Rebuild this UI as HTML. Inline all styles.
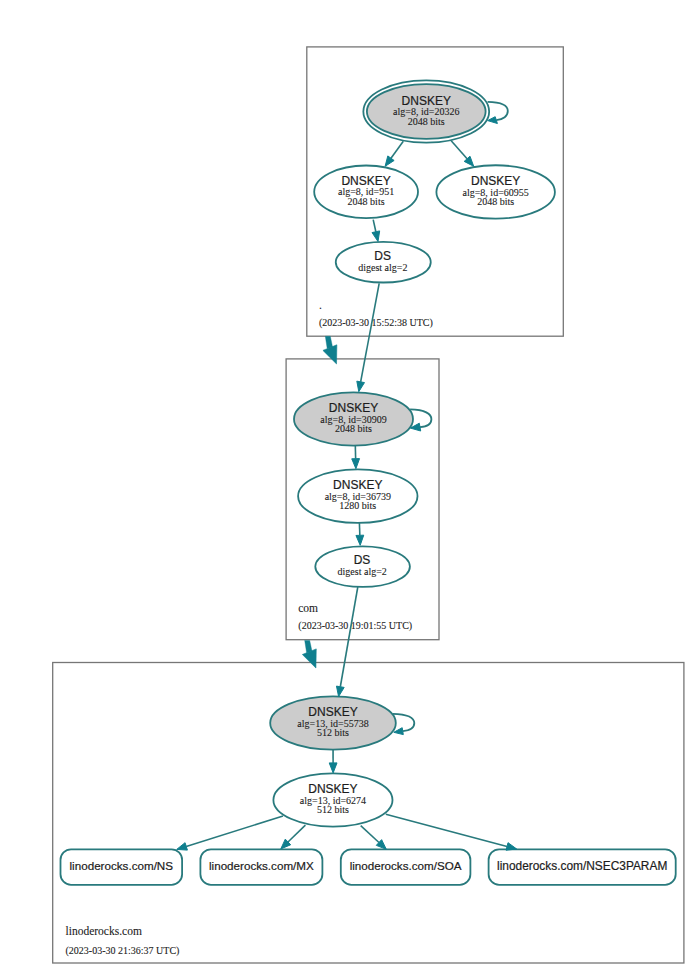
<!DOCTYPE html>
<html><head><meta charset="utf-8"><style>
html,body{margin:0;padding:0;background:#ffffff;}
svg{display:block;}
.sa{font-family:"Liberation Sans",sans-serif;}
.se{font-family:"Liberation Serif",serif;}
</style></head><body>
<svg width="694" height="972" viewBox="0 0 694 972">
<rect width="694" height="972" fill="#ffffff"/>
<rect x="306.8" y="46.9" width="256.50" height="289.30" fill="none" stroke="#767676" stroke-width="1.3"/>
<rect x="286.1" y="358.9" width="152.90" height="280.80" fill="none" stroke="#767676" stroke-width="1.3"/>
<rect x="52.7" y="662.5" width="631.20" height="300.50" fill="none" stroke="#767676" stroke-width="1.3"/>
<text class="se" x="318.90" y="308.50" font-size="11.5" text-anchor="start" fill="#1c1c1c" stroke="#1c1c1c" stroke-width="0.1">.</text>
<text class="se" x="318.90" y="325.90" font-size="10" text-anchor="start" fill="#1c1c1c" stroke="#1c1c1c" stroke-width="0.1">(2023-03-30 15:52:38 UTC)</text>
<text class="se" x="298.20" y="612.00" font-size="11.5" text-anchor="start" fill="#1c1c1c" stroke="#1c1c1c" stroke-width="0.1">com</text>
<text class="se" x="298.30" y="629.40" font-size="10" text-anchor="start" fill="#1c1c1c" stroke="#1c1c1c" stroke-width="0.1">(2023-03-30 19:01:55 UTC)</text>
<text class="se" x="65.50" y="935.20" font-size="11.5" text-anchor="start" fill="#1c1c1c" stroke="#1c1c1c" stroke-width="0.1">linoderocks.com</text>
<text class="se" x="65.50" y="953.60" font-size="10" text-anchor="start" fill="#1c1c1c" stroke="#1c1c1c" stroke-width="0.1">(2023-03-30 21:36:37 UTC)</text>
<ellipse cx="426.25" cy="111.5" rx="62.9" ry="31.1" fill="none" stroke="#297a7d" stroke-width="1.8"/>
<ellipse cx="426.25" cy="111.5" rx="59.35" ry="27.4" fill="#cccccc" stroke="#297a7d" stroke-width="1.8"/>
<text class="sa" x="426.25" y="104.50" font-size="12" text-anchor="middle" fill="#1c1c1c" stroke="#1c1c1c" stroke-width="0.2">DNSKEY</text>
<text class="se" x="426.25" y="115.10" font-size="10" text-anchor="middle" fill="#1c1c1c" stroke="#1c1c1c" stroke-width="0.1">alg=8, id=20326</text>
<text class="se" x="426.25" y="124.70" font-size="10" text-anchor="middle" fill="#1c1c1c" stroke="#1c1c1c" stroke-width="0.1">2048 bits</text>
<path d="M487.6,101.9 C500.60,102.20 507.80,104.90 507.80,110.90 C507.80,115.90 503.30,119.60 496.30,120.10" stroke="#297a7d" stroke-width="1.8" fill="none"/>
<polygon points="495.2,116.7 487.6,120.6 497.4,123.5" fill="#0f7f8e" stroke="#0f7f8e" stroke-width="1"/>
<ellipse cx="366.1" cy="191.8" rx="51.9" ry="26.3" fill="#ffffff" stroke="#297a7d" stroke-width="1.8"/>
<text class="sa" x="366.10" y="184.80" font-size="12" text-anchor="middle" fill="#1c1c1c" stroke="#1c1c1c" stroke-width="0.2">DNSKEY</text>
<text class="se" x="366.10" y="195.40" font-size="10" text-anchor="middle" fill="#1c1c1c" stroke="#1c1c1c" stroke-width="0.1">alg=8, id=951</text>
<text class="se" x="366.10" y="205.00" font-size="10" text-anchor="middle" fill="#1c1c1c" stroke="#1c1c1c" stroke-width="0.1">2048 bits</text>
<ellipse cx="495.65" cy="191.95" rx="59.25" ry="26.7" fill="#ffffff" stroke="#297a7d" stroke-width="1.8"/>
<text class="sa" x="495.65" y="184.95" font-size="12" text-anchor="middle" fill="#1c1c1c" stroke="#1c1c1c" stroke-width="0.2">DNSKEY</text>
<text class="se" x="495.65" y="195.55" font-size="10" text-anchor="middle" fill="#1c1c1c" stroke="#1c1c1c" stroke-width="0.1">alg=8, id=60955</text>
<text class="se" x="495.65" y="205.15" font-size="10" text-anchor="middle" fill="#1c1c1c" stroke="#1c1c1c" stroke-width="0.1">2048 bits</text>
<ellipse cx="383.25" cy="262.2" rx="47.5" ry="20.3" fill="#ffffff" stroke="#297a7d" stroke-width="1.8"/>
<text class="sa" x="382.65" y="259.80" font-size="12" text-anchor="middle" fill="#1c1c1c" stroke="#1c1c1c" stroke-width="0.2">DS</text>
<text class="se" x="382.85" y="270.60" font-size="10" text-anchor="middle" fill="#1c1c1c" stroke="#1c1c1c" stroke-width="0.1">digest alg=2</text>
<ellipse cx="353.5" cy="418.95" rx="59.5" ry="26.65" fill="#cccccc" stroke="#297a7d" stroke-width="1.8"/>
<text class="sa" x="353.50" y="411.95" font-size="12" text-anchor="middle" fill="#1c1c1c" stroke="#1c1c1c" stroke-width="0.2">DNSKEY</text>
<text class="se" x="353.50" y="422.55" font-size="10" text-anchor="middle" fill="#1c1c1c" stroke="#1c1c1c" stroke-width="0.1">alg=8, id=30909</text>
<text class="se" x="353.50" y="432.15" font-size="10" text-anchor="middle" fill="#1c1c1c" stroke="#1c1c1c" stroke-width="0.1">2048 bits</text>
<path d="M410.1,409.4 C423.10,409.70 431.40,413.20 431.40,419.20 C431.40,424.20 427.00,426.60 420.00,427.10" stroke="#297a7d" stroke-width="1.8" fill="none"/>
<polygon points="419.3,423.2 410.4,428.1 420.7,431" fill="#0f7f8e" stroke="#0f7f8e" stroke-width="1"/>
<ellipse cx="357.8" cy="496.15" rx="59.7" ry="26.75" fill="#ffffff" stroke="#297a7d" stroke-width="1.8"/>
<text class="sa" x="357.80" y="489.15" font-size="12" text-anchor="middle" fill="#1c1c1c" stroke="#1c1c1c" stroke-width="0.2">DNSKEY</text>
<text class="se" x="357.80" y="499.75" font-size="10" text-anchor="middle" fill="#1c1c1c" stroke="#1c1c1c" stroke-width="0.1">alg=8, id=36739</text>
<text class="se" x="357.80" y="509.35" font-size="10" text-anchor="middle" fill="#1c1c1c" stroke="#1c1c1c" stroke-width="0.1">1280 bits</text>
<ellipse cx="362.6" cy="566.6" rx="47.3" ry="20.3" fill="#ffffff" stroke="#297a7d" stroke-width="1.8"/>
<text class="sa" x="362.00" y="564.20" font-size="12" text-anchor="middle" fill="#1c1c1c" stroke="#1c1c1c" stroke-width="0.2">DS</text>
<text class="se" x="362.20" y="575.00" font-size="10" text-anchor="middle" fill="#1c1c1c" stroke="#1c1c1c" stroke-width="0.1">digest alg=2</text>
<ellipse cx="333.0" cy="723.0" rx="62.8" ry="26.6" fill="#cccccc" stroke="#297a7d" stroke-width="1.8"/>
<text class="sa" x="333.00" y="716.00" font-size="12" text-anchor="middle" fill="#1c1c1c" stroke="#1c1c1c" stroke-width="0.2">DNSKEY</text>
<text class="se" x="333.00" y="726.60" font-size="10" text-anchor="middle" fill="#1c1c1c" stroke="#1c1c1c" stroke-width="0.1">alg=13, id=55738</text>
<text class="se" x="333.00" y="736.20" font-size="10" text-anchor="middle" fill="#1c1c1c" stroke="#1c1c1c" stroke-width="0.1">512 bits</text>
<path d="M392.7,713.8 C405.70,714.10 414.30,717.10 414.30,723.10 C414.30,728.10 409.75,730.65 402.75,731.15" stroke="#297a7d" stroke-width="1.8" fill="none"/>
<polygon points="402.2,727.7 393.8,732.3 403.3,734.6" fill="#0f7f8e" stroke="#0f7f8e" stroke-width="1"/>
<ellipse cx="332.95" cy="799.95" rx="59.55" ry="26.65" fill="#ffffff" stroke="#297a7d" stroke-width="1.8"/>
<text class="sa" x="332.95" y="792.95" font-size="12" text-anchor="middle" fill="#1c1c1c" stroke="#1c1c1c" stroke-width="0.2">DNSKEY</text>
<text class="se" x="332.95" y="803.55" font-size="10" text-anchor="middle" fill="#1c1c1c" stroke="#1c1c1c" stroke-width="0.1">alg=13, id=6274</text>
<text class="se" x="332.95" y="813.15" font-size="10" text-anchor="middle" fill="#1c1c1c" stroke="#1c1c1c" stroke-width="0.1">512 bits</text>
<rect x="60.5" y="849.4" width="121.60" height="35.40" rx="10.5" ry="10.5" fill="#ffffff" stroke="#297a7d" stroke-width="1.8"/>
<text class="sa" x="121.30" y="869.80" font-size="11.65" text-anchor="middle" fill="#1c1c1c" stroke="#1c1c1c" stroke-width="0.2">linoderocks.com/NS</text>
<rect x="200.4" y="849.4" width="122.00" height="35.40" rx="10.5" ry="10.5" fill="#ffffff" stroke="#297a7d" stroke-width="1.8"/>
<text class="sa" x="261.40" y="869.80" font-size="11.65" text-anchor="middle" fill="#1c1c1c" stroke="#1c1c1c" stroke-width="0.2">linoderocks.com/MX</text>
<rect x="340.8" y="849.4" width="129.60" height="35.40" rx="10.5" ry="10.5" fill="#ffffff" stroke="#297a7d" stroke-width="1.8"/>
<text class="sa" x="405.60" y="869.80" font-size="11.65" text-anchor="middle" fill="#1c1c1c" stroke="#1c1c1c" stroke-width="0.2">linoderocks.com/SOA</text>
<rect x="488.6" y="849.4" width="187.10" height="35.40" rx="10.5" ry="10.5" fill="#ffffff" stroke="#297a7d" stroke-width="1.8"/>
<text class="sa" x="582.15" y="869.80" font-size="11.9" text-anchor="middle" fill="#1c1c1c" stroke="#1c1c1c" stroke-width="0.2">linoderocks.com/NSEC3PARAM</text>
<path d="M403.30,141.20 L390.97,158.20" stroke="#297a7d" stroke-width="1.6" fill="none"/>
<polygon points="387.81,155.91 385.10,166.30 394.13,160.49" fill="#0f7f8e" stroke="#0f7f8e" stroke-width="1"/>
<path d="M451.20,140.80 L467.08,158.80" stroke="#297a7d" stroke-width="1.6" fill="none"/>
<polygon points="464.16,161.38 473.70,166.30 470.01,156.22" fill="#0f7f8e" stroke="#0f7f8e" stroke-width="1"/>
<path d="M373.20,219.70 L375.85,231.73" stroke="#297a7d" stroke-width="1.6" fill="none"/>
<polygon points="372.04,232.57 378.00,241.50 379.66,230.90" fill="#0f7f8e" stroke="#0f7f8e" stroke-width="1"/>
<path d="M379.20,283.40 L360.65,381.87" stroke="#297a7d" stroke-width="1.6" fill="none"/>
<polygon points="356.82,381.15 358.80,391.70 364.48,382.59" fill="#0f7f8e" stroke="#0f7f8e" stroke-width="1"/>
<path d="M355.30,445.60 L355.64,458.70" stroke="#297a7d" stroke-width="1.6" fill="none"/>
<polygon points="351.74,458.80 355.90,468.70 359.54,458.60" fill="#0f7f8e" stroke="#0f7f8e" stroke-width="1"/>
<path d="M359.40,523.00 L359.84,535.31" stroke="#297a7d" stroke-width="1.6" fill="none"/>
<polygon points="355.94,535.45 360.20,545.30 363.74,535.17" fill="#0f7f8e" stroke="#0f7f8e" stroke-width="1"/>
<path d="M357.80,587.00 L340.33,686.75" stroke="#297a7d" stroke-width="1.6" fill="none"/>
<polygon points="336.48,686.08 338.60,696.60 344.17,687.42" fill="#0f7f8e" stroke="#0f7f8e" stroke-width="1"/>
<path d="M333.05,749.60 L333.11,762.90" stroke="#297a7d" stroke-width="1.6" fill="none"/>
<polygon points="329.21,762.92 333.15,772.90 337.01,762.88" fill="#0f7f8e" stroke="#0f7f8e" stroke-width="1"/>
<path d="M283.00,816.00 L186.24,846.40" stroke="#297a7d" stroke-width="1.6" fill="none"/>
<polygon points="185.07,842.68 176.70,849.40 187.41,850.12" fill="#0f7f8e" stroke="#0f7f8e" stroke-width="1"/>
<path d="M305.40,825.10 L287.99,841.95" stroke="#297a7d" stroke-width="1.6" fill="none"/>
<polygon points="285.28,839.14 280.80,848.90 290.70,844.75" fill="#0f7f8e" stroke="#0f7f8e" stroke-width="1"/>
<path d="M360.70,825.60 L378.96,842.51" stroke="#297a7d" stroke-width="1.6" fill="none"/>
<polygon points="376.31,845.37 386.30,849.30 381.61,839.64" fill="#0f7f8e" stroke="#0f7f8e" stroke-width="1"/>
<path d="M385.80,814.30 L507.03,846.44" stroke="#297a7d" stroke-width="1.6" fill="none"/>
<polygon points="506.03,850.21 516.70,849.00 508.03,842.67" fill="#0f7f8e" stroke="#0f7f8e" stroke-width="1"/>
<polygon points="325.30,336.30 330.30,336.30 332.60,347.20 327.20,348.60" fill="#0f7f8e" stroke="#0f7f8e" stroke-width="0.4"/>
<polygon points="322.95,350.40 336.85,344.80 336.50,363.90" fill="#0f7f8e" stroke="#0f7f8e" stroke-width="0.6" stroke-linejoin="miter"/>
<polygon points="304.70,640.40 309.70,640.40 312.00,651.30 306.60,652.70" fill="#0f7f8e" stroke="#0f7f8e" stroke-width="0.4"/>
<polygon points="302.35,654.50 316.25,648.90 315.90,668.00" fill="#0f7f8e" stroke="#0f7f8e" stroke-width="0.6" stroke-linejoin="miter"/>
</svg>
</body></html>
